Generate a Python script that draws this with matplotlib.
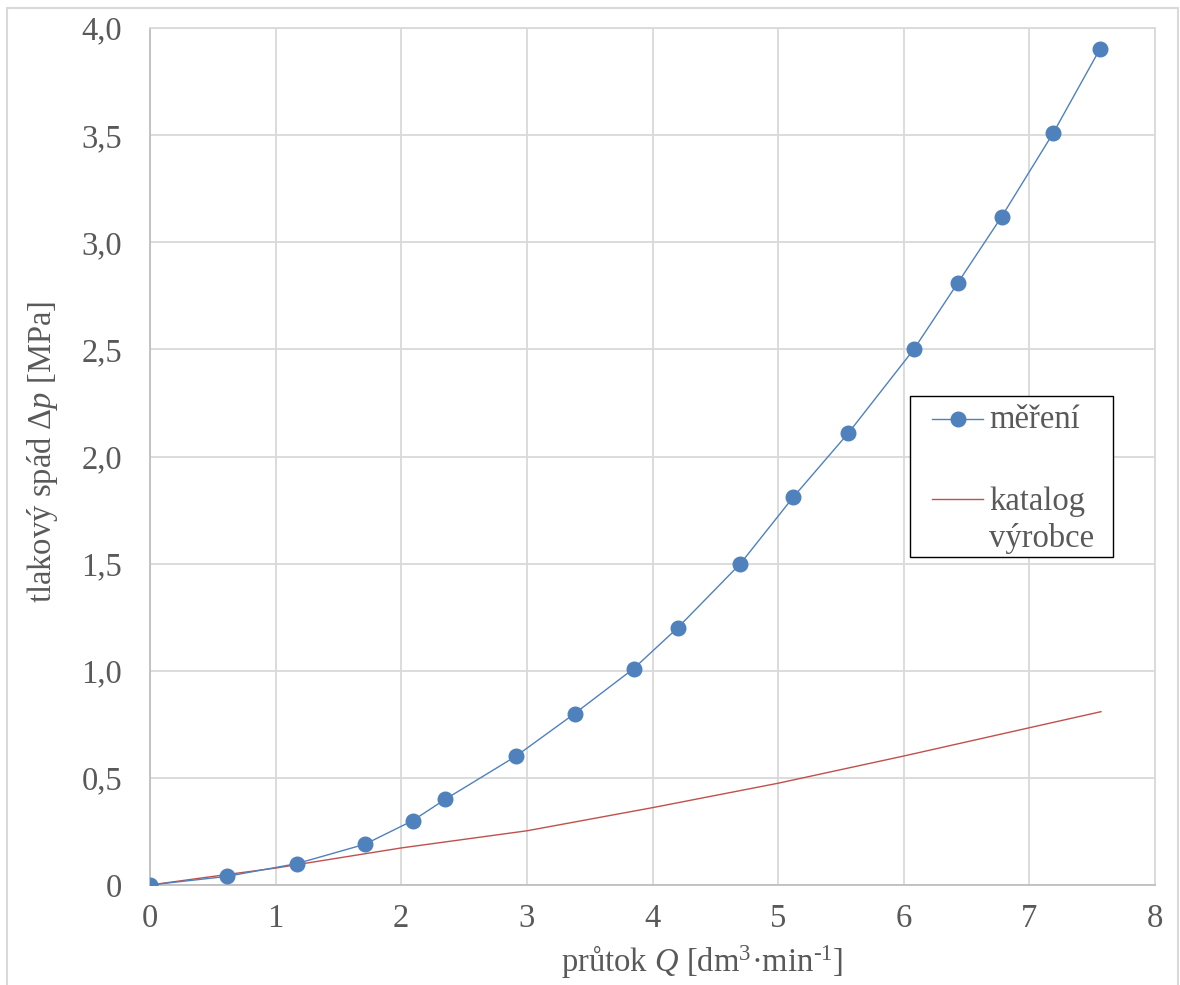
import matplotlib
matplotlib.use('Agg')
import matplotlib.pyplot as plt
from matplotlib.ticker import FuncFormatter, MultipleLocator
from matplotlib.patches import Rectangle
from matplotlib.lines import Line2D

# measured data
q_mer = [0, 0.61, 1.17, 1.71, 2.09, 2.35, 2.91, 3.38, 3.85, 4.20, 4.70, 5.12, 5.56, 6.08, 6.43, 6.78, 7.19, 7.56]
dp_mer = [0, 0.04, 0.10, 0.19, 0.30, 0.40, 0.60, 0.80, 1.01, 1.20, 1.50, 1.81, 2.11, 2.50, 2.81, 3.12, 3.51, 3.90]

# catalogue curve
q_kat = [0, 0.5, 1, 2, 3, 4, 5, 6, 7, 7.57]
dp_kat = [0, 0.04, 0.079, 0.173, 0.253, 0.361, 0.475, 0.602, 0.734, 0.809]

gray = '#595959'
blue = '#4F81BD'
red = '#C0504D'
fs = 23.5

plt.rcParams['font.family'] = ['Liberation Serif', 'DejaVu Serif']
plt.rcParams['mathtext.fontset'] = 'custom'
plt.rcParams['mathtext.rm'] = 'Liberation Serif'
plt.rcParams['mathtext.it'] = 'Liberation Serif:italic'

fig = plt.figure(figsize=(11.8, 9.85), dpi=100)
ax = fig.add_axes([150/1180, 1-885/985, 1005/1180, 857/985])

# chart area border
fig.patches.append(Rectangle((7/1180, -0.01), 1171/1180, 1-8/985+0.01, transform=fig.transFigure,
                             fill=False, edgecolor='#D9D9D9', linewidth=1.5))

ax.plot(q_kat, dp_kat, color=red, linewidth=1.0, zorder=3)
ax.plot(q_mer, dp_mer, color=blue, linewidth=1.0, marker='o', markersize=10.5, zorder=4)

ax.set_xlim(0, 8)
ax.set_ylim(0, 4.0)
ax.xaxis.set_major_locator(MultipleLocator(1))
ax.yaxis.set_major_locator(MultipleLocator(0.5))
ax.yaxis.set_major_formatter(FuncFormatter(lambda v, p: '0' if v == 0 else f'{v:.1f}'.replace('.', ',')))
ax.grid(True, color='#D9D9D9', linewidth=1.3)
ax.set_axisbelow(True)
for s in ax.spines.values():
    s.set_color('#D9D9D9')
    s.set_linewidth(1.3)
ax.spines['bottom'].set_color('#BFBFBF')
ax.spines['left'].set_color('#BFBFBF')
ax.tick_params(length=0, labelsize=fs, colors=gray)
ax.tick_params(axis='y', pad=20)
ax.tick_params(axis='x', pad=13)

ax.set_xlabel(r'průtok $Q$ [dm$^3$·min$^{\text{-}1}$]', fontsize=fs, color=gray)
ax.set_ylabel(r'tlakový spád $\Delta p$ [MPa]', fontsize=fs, color=gray)
ax.xaxis.set_label_coords(0.549, -0.068)
ax.yaxis.set_label_coords(-0.090, 0.505)

# legend box (drawn by hand so the red handle sits on the first line)
ax.add_patch(Rectangle((0.756, 0.3827), 0.202, 0.1879, transform=ax.transAxes,
                       facecolor='white', edgecolor='black', linewidth=1.0, zorder=6))
ax.add_line(Line2D([0.778, 0.829], [0.5438, 0.5438], transform=ax.transAxes, color=blue,
                   linewidth=1.0, zorder=7))
ax.add_line(Line2D([0.8035], [0.5438], transform=ax.transAxes, color=blue, marker='o',
                   markersize=10.5, zorder=7))
ax.add_line(Line2D([0.778, 0.829], [0.4504, 0.4504], transform=ax.transAxes, color=red,
                   linewidth=1.0, zorder=7))
ax.text(0.835, 0.5333, 'měření', transform=ax.transAxes, fontsize=fs, color=gray,
        va='baseline', ha='left', zorder=8)
ax.text(0.835, 0.4376, 'katalog', transform=ax.transAxes, fontsize=fs, color=gray,
        va='baseline', ha='left', zorder=8)
ax.text(0.835, 0.3944, 'výrobce', transform=ax.transAxes, fontsize=fs, color=gray,
        va='baseline', ha='left', zorder=8)

fig.savefig('out.png', dpi=100)
